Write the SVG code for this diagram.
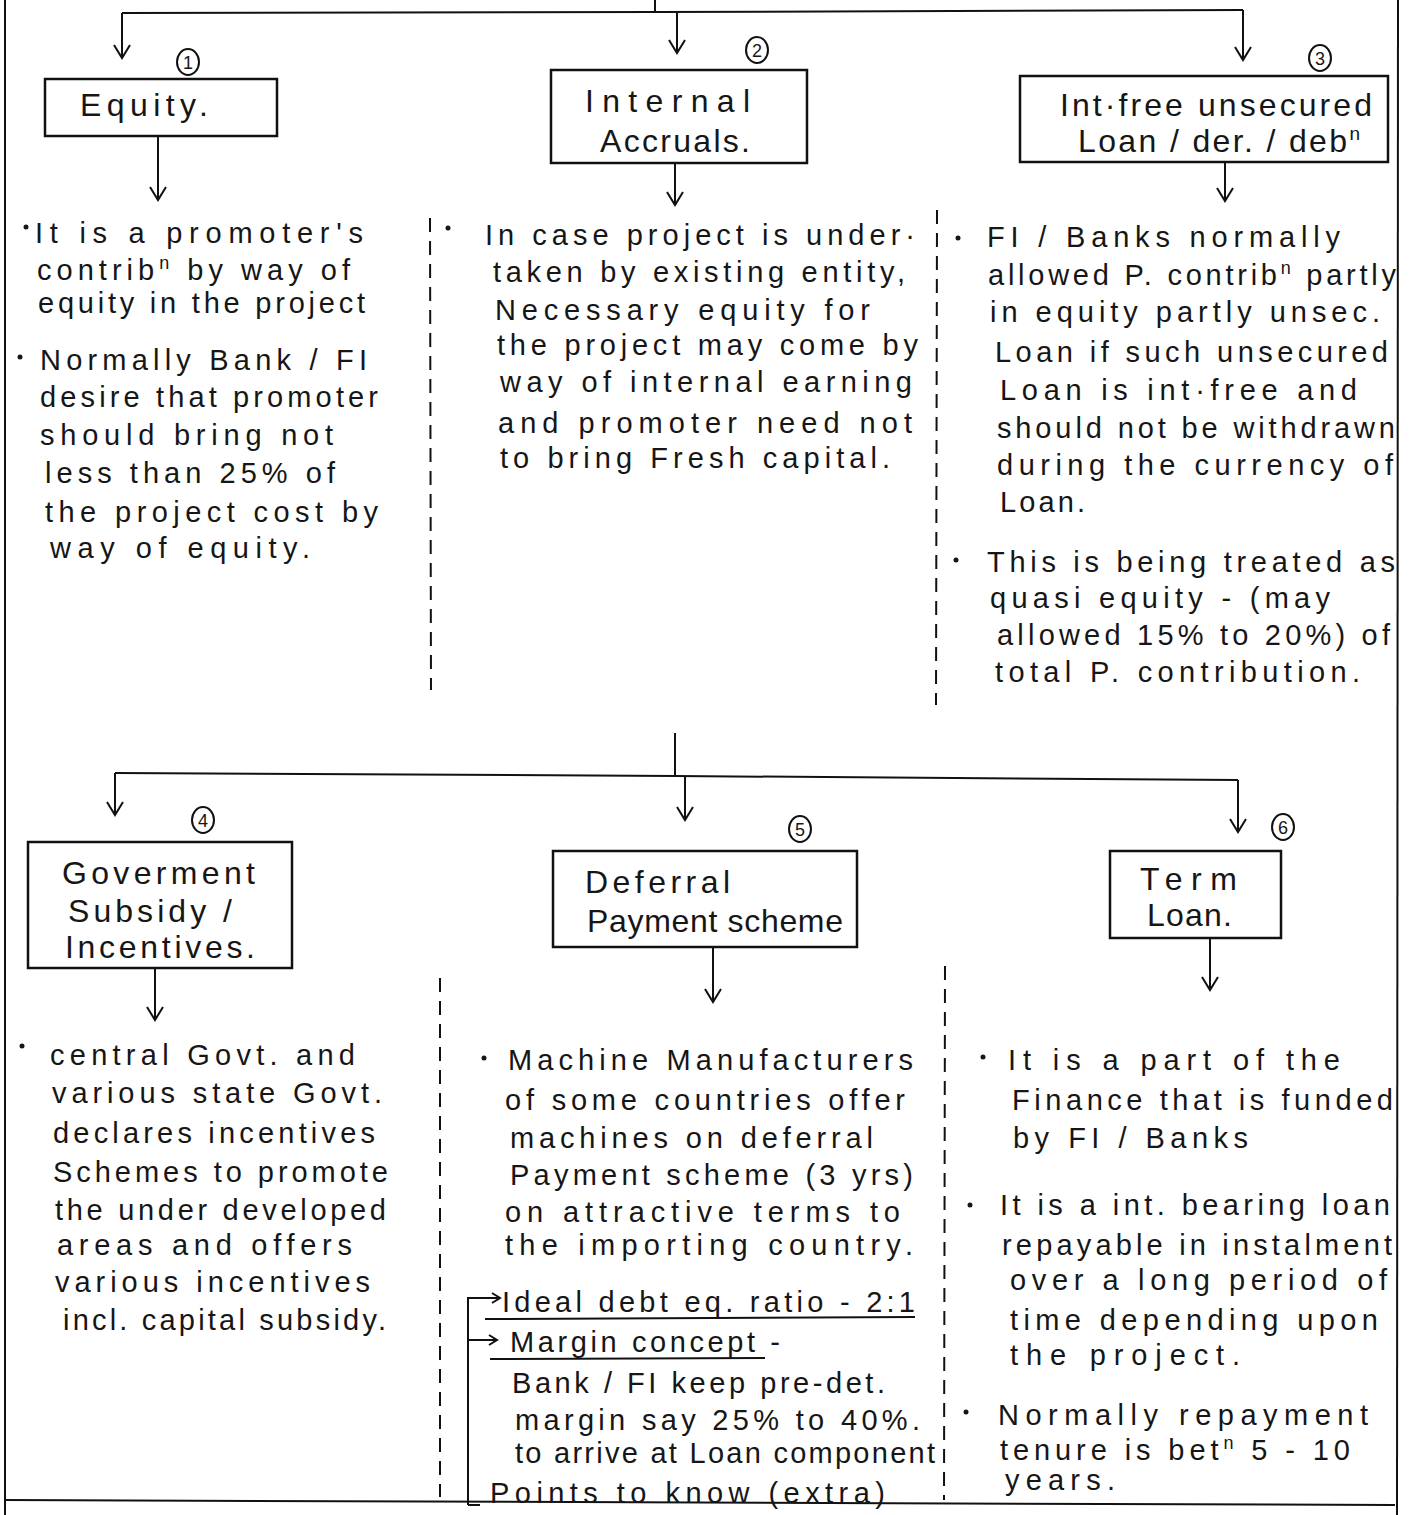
<svg xmlns="http://www.w3.org/2000/svg" width="1417" height="1515" viewBox="0 0 1417 1515">
<defs>
<marker id="arr" markerUnits="userSpaceOnUse" orient="auto" refX="0" refY="0" markerWidth="20" markerHeight="20" overflow="visible">
<path d="M-13,-8 L0,0 L-13,8" fill="none" stroke="#111" stroke-width="2"/>
</marker>
<marker id="sarr" markerUnits="userSpaceOnUse" orient="auto" refX="0" refY="0" markerWidth="12" markerHeight="12" overflow="visible">
<path d="M-8,-5 L0,0 L-8,5" fill="none" stroke="#111" stroke-width="2"/>
</marker>
</defs>
<style>
.bg{fill:#ffffff}
.ln{stroke:#111;stroke-width:2;fill:none}
.bx{stroke:#111;stroke-width:2.5;fill:none}
.ds{stroke:#111;stroke-width:2;fill:none;stroke-dasharray:14 9}
.t{font-family:"Liberation Sans",Arial,sans-serif;font-size:29px;fill:#161616}
.h{font-family:"Liberation Sans",Arial,sans-serif;font-size:32px;fill:#161616}
.n{font-family:"Liberation Sans",Arial,sans-serif;font-size:18px;fill:#161616;text-anchor:middle}
.c{stroke:#111;stroke-width:2;fill:none}
.dot{fill:#161616}
</style>
<rect class="bg" x="0" y="0" width="1417" height="1515"/>

<g id="frame">
<line class="ln" x1="5" y1="0" x2="5" y2="1515"/>
<line class="ln" x1="1398" y1="0" x2="1397" y2="1515"/>
<line class="ln" x1="5" y1="1500" x2="1395" y2="1505" stroke-width="2.5"/>
</g>

<g id="connectors">
<line class="ln" x1="655" y1="0" x2="655" y2="12"/>
<path class="ln" d="M122,13 L655,12 L1243,10"/>
<line class="ln" x1="122" y1="13" x2="122" y2="58" marker-end="url(#arr)"/>
<line class="ln" x1="677" y1="12" x2="677" y2="53" marker-end="url(#arr)"/>
<line class="ln" x1="1243" y1="10" x2="1243" y2="60" marker-end="url(#arr)"/>
<line class="ln" x1="158" y1="136" x2="158" y2="200" marker-end="url(#arr)"/>
<line class="ln" x1="675" y1="163" x2="675" y2="205" marker-end="url(#arr)"/>
<line class="ln" x1="1225" y1="162" x2="1225" y2="201" marker-end="url(#arr)"/>

<line class="ln" x1="675" y1="733" x2="675" y2="776"/>
<path class="ln" d="M115,773 L675,776 L1238,780"/>
<line class="ln" x1="115" y1="773" x2="115" y2="815" marker-end="url(#arr)"/>
<line class="ln" x1="685" y1="776" x2="685" y2="820" marker-end="url(#arr)"/>
<line class="ln" x1="1238" y1="780" x2="1238" y2="832" marker-end="url(#arr)"/>
<line class="ln" x1="155" y1="968" x2="155" y2="1020" marker-end="url(#arr)"/>
<line class="ln" x1="713" y1="947" x2="713" y2="1002" marker-end="url(#arr)"/>
<line class="ln" x1="1210" y1="938" x2="1210" y2="990" marker-end="url(#arr)"/>

<line class="ds" x1="430" y1="218" x2="431" y2="690"/>
<line class="ds" x1="937" y1="210" x2="936" y2="705"/>
<line class="ds" x1="440" y1="978" x2="440" y2="1497"/>
<line class="ds" x1="945" y1="966" x2="944" y2="1500"/>

<path class="ln" d="M468,1505 L468,1298 L500,1298" marker-end="url(#sarr)"/>
<line class="ln" x1="468" y1="1340" x2="497" y2="1340" marker-end="url(#sarr)"/>
<line class="ln" x1="468" y1="1505" x2="480" y2="1505"/>
<line class="ln" x1="485" y1="1319" x2="915" y2="1317"/>
<line class="ln" x1="490" y1="1359" x2="765" y2="1358"/>
</g>

<g id="n1">
<rect class="bx" x="45" y="79" width="232" height="57"/>
<text class="h" x="80" y="116" textLength="128" lengthAdjust="spacing">Equity.</text>
<ellipse class="c" cx="188" cy="62" rx="11" ry="13"/><text class="n" x="188" y="69">1</text>
</g>
<g id="n2">
<rect class="bx" x="551" y="70" width="256" height="93"/>
<text class="h" x="585" y="112" textLength="165" lengthAdjust="spacing">Internal</text>
<text class="h" x="600" y="152" textLength="150" lengthAdjust="spacing">Accruals.</text>
<ellipse class="c" cx="757" cy="50" rx="11" ry="13"/><text class="n" x="757" y="57">2</text>
</g>
<g id="n3">
<rect class="bx" x="1020" y="76" width="368" height="86"/>
<text class="h" x="1060" y="116" textLength="312" lengthAdjust="spacing">Int·free unsecured</text>
<text class="h" x="1078" y="152" textLength="282" lengthAdjust="spacing">Loan / der. / deb<tspan font-size="19" dy="-12">n</tspan></text>
<ellipse class="c" cx="1320" cy="58" rx="11" ry="13"/><text class="n" x="1320" y="65">3</text>
</g>
<g id="n4">
<rect class="bx" x="28" y="842" width="264" height="126"/>
<text class="h" x="62" y="884" textLength="193" lengthAdjust="spacing">Goverment</text>
<text class="h" x="68" y="922" textLength="164" lengthAdjust="spacing">Subsidy /</text>
<text class="h" x="65" y="958" textLength="190" lengthAdjust="spacing">Incentives.</text>
<ellipse class="c" cx="203" cy="820" rx="11" ry="13"/><text class="n" x="203" y="827">4</text>
</g>
<g id="n5">
<rect class="bx" x="553" y="851" width="304" height="96"/>
<text class="h" x="585" y="893" textLength="145" lengthAdjust="spacing">Deferral</text>
<text class="h" x="587" y="932" textLength="256" lengthAdjust="spacing">Payment scheme</text>
<ellipse class="c" cx="800" cy="829" rx="11" ry="13"/><text class="n" x="800" y="836">5</text>
</g>
<g id="n6">
<rect class="bx" x="1110" y="851" width="171" height="87"/>
<text class="h" x="1140" y="890" textLength="97" lengthAdjust="spacing">Term</text>
<text class="h" x="1147" y="926" textLength="85" lengthAdjust="spacing">Loan.</text>
<ellipse class="c" cx="1283" cy="827" rx="11" ry="13"/><text class="n" x="1283" y="834">6</text>
</g>

<g id="text-equity">
<circle class="dot" cx="26" cy="227" r="2.5"/>
<text class="t" x="35" y="243" textLength="328" lengthAdjust="spacing">It is a promoter's</text>
<text class="t" x="37" y="280" textLength="313" lengthAdjust="spacing">contrib<tspan font-size="18" dy="-11">n</tspan><tspan dy="11"> by way of</tspan></text>
<text class="t" x="38" y="313" textLength="327" lengthAdjust="spacing">equity in the project</text>
<circle class="dot" cx="20" cy="357" r="2.5"/>
<text class="t" x="40" y="370" textLength="327" lengthAdjust="spacing">Normally Bank / FI</text>
<text class="t" x="40" y="407" textLength="338" lengthAdjust="spacing">desire that promoter</text>
<text class="t" x="40" y="445" textLength="293" lengthAdjust="spacing">should bring not</text>
<text class="t" x="45" y="483" textLength="290" lengthAdjust="spacing">less than 25% of</text>
<text class="t" x="45" y="522" textLength="333" lengthAdjust="spacing">the project cost by</text>
<text class="t" x="50" y="558" textLength="260" lengthAdjust="spacing">way of equity.</text>
</g>

<g id="text-internal">
<circle class="dot" cx="448" cy="228" r="2.5"/>
<text class="t" x="485" y="245" textLength="430" lengthAdjust="spacing">In case project is under·</text>
<text class="t" x="493" y="282" textLength="412" lengthAdjust="spacing">taken by existing entity,</text>
<text class="t" x="495" y="320" textLength="375" lengthAdjust="spacing">Necessary equity for</text>
<text class="t" x="497" y="355" textLength="421" lengthAdjust="spacing">the project may come by</text>
<text class="t" x="500" y="392" textLength="412" lengthAdjust="spacing">way of internal earning</text>
<text class="t" x="498" y="433" textLength="414" lengthAdjust="spacing">and promoter need not</text>
<text class="t" x="500" y="468" textLength="390" lengthAdjust="spacing">to bring Fresh capital.</text>
</g>

<g id="text-intfree">
<circle class="dot" cx="958" cy="238" r="2.5"/>
<text class="t" x="987" y="247" textLength="353" lengthAdjust="spacing">FI / Banks normally</text>
<text class="t" x="988" y="285" textLength="408" lengthAdjust="spacing">allowed P. contrib<tspan font-size="18" dy="-11">n</tspan><tspan dy="11"> partly</tspan></text>
<text class="t" x="990" y="322" textLength="390" lengthAdjust="spacing">in equity partly unsec.</text>
<text class="t" x="995" y="362" textLength="393" lengthAdjust="spacing">Loan if such unsecured</text>
<text class="t" x="1000" y="400" textLength="357" lengthAdjust="spacing">Loan is int·free and</text>
<text class="t" x="997" y="438" textLength="398" lengthAdjust="spacing">should not be withdrawn</text>
<text class="t" x="997" y="475" textLength="396" lengthAdjust="spacing">during the currency of</text>
<text class="t" x="1000" y="512" textLength="85" lengthAdjust="spacing">Loan.</text>
<circle class="dot" cx="956" cy="560" r="2.5"/>
<text class="t" x="987" y="572" textLength="408" lengthAdjust="spacing">This is being treated as</text>
<text class="t" x="990" y="608" textLength="340" lengthAdjust="spacing">quasi equity - (may</text>
<text class="t" x="997" y="645" textLength="393" lengthAdjust="spacing">allowed 15% to 20%) of</text>
<text class="t" x="995" y="682" textLength="365" lengthAdjust="spacing">total P. contribution.</text>
</g>

<g id="text-govt">
<circle class="dot" cx="22" cy="1046" r="2.5"/>
<text class="t" x="50" y="1065" textLength="305" lengthAdjust="spacing">central Govt. and</text>
<text class="t" x="52" y="1103" textLength="330" lengthAdjust="spacing">various state Govt.</text>
<text class="t" x="53" y="1143" textLength="322" lengthAdjust="spacing">declares incentives</text>
<text class="t" x="53" y="1182" textLength="335" lengthAdjust="spacing">Schemes to promote</text>
<text class="t" x="55" y="1220" textLength="331" lengthAdjust="spacing">the under developed</text>
<text class="t" x="57" y="1255" textLength="295" lengthAdjust="spacing">areas and offers</text>
<text class="t" x="55" y="1292" textLength="315" lengthAdjust="spacing">various incentives</text>
<text class="t" x="63" y="1330" textLength="323" lengthAdjust="spacing">incl. capital subsidy.</text>
</g>

<g id="text-deferral">
<circle class="dot" cx="484" cy="1058" r="2.5"/>
<text class="t" x="508" y="1070" textLength="405" lengthAdjust="spacing">Machine Manufacturers</text>
<text class="t" x="505" y="1110" textLength="400" lengthAdjust="spacing">of some countries offer</text>
<text class="t" x="510" y="1148" textLength="363" lengthAdjust="spacing">machines on deferral</text>
<text class="t" x="510" y="1185" textLength="403" lengthAdjust="spacing">Payment scheme (3 yrs)</text>
<text class="t" x="505" y="1222" textLength="395" lengthAdjust="spacing">on attractive terms to</text>
<text class="t" x="505" y="1255" textLength="408" lengthAdjust="spacing">the importing country.</text>
<text class="t" x="502" y="1312" textLength="413" lengthAdjust="spacing">Ideal debt eq. ratio - 2:1</text>
<text class="t" x="510" y="1352" textLength="270" lengthAdjust="spacing">Margin concept -</text>
<text class="t" x="512" y="1393" textLength="373" lengthAdjust="spacing">Bank / FI keep pre-det.</text>
<text class="t" x="515" y="1430" textLength="405" lengthAdjust="spacing">margin say 25% to 40%.</text>
<text class="t" x="515" y="1463" textLength="420" lengthAdjust="spacing">to arrive at Loan component</text>
<text class="t" x="490" y="1503" textLength="395" lengthAdjust="spacing">Points to know (extra)</text>
</g>

<g id="text-termloan">
<circle class="dot" cx="983" cy="1057" r="2.5"/>
<text class="t" x="1008" y="1070" textLength="332" lengthAdjust="spacing">It is a part of the</text>
<text class="t" x="1012" y="1110" textLength="381" lengthAdjust="spacing">Finance that is funded</text>
<text class="t" x="1013" y="1148" textLength="235" lengthAdjust="spacing">by FI / Banks</text>
<circle class="dot" cx="970" cy="1205" r="2.5"/>
<text class="t" x="1000" y="1215" textLength="390" lengthAdjust="spacing">It is a int. bearing loan</text>
<text class="t" x="1002" y="1255" textLength="390" lengthAdjust="spacing">repayable in instalment</text>
<text class="t" x="1010" y="1290" textLength="377" lengthAdjust="spacing">over a long period of</text>
<text class="t" x="1010" y="1330" textLength="368" lengthAdjust="spacing">time depending upon</text>
<text class="t" x="1010" y="1365" textLength="230" lengthAdjust="spacing">the project.</text>
<circle class="dot" cx="966" cy="1412" r="2.5"/>
<text class="t" x="998" y="1425" textLength="370" lengthAdjust="spacing">Normally repayment</text>
<text class="t" x="1000" y="1460" textLength="350" lengthAdjust="spacing">tenure is bet<tspan font-size="18" dy="-11">n</tspan><tspan dy="11"> 5 - 10</tspan></text>
<text class="t" x="1005" y="1490" textLength="110" lengthAdjust="spacing">years.</text>
</g>
</svg>
